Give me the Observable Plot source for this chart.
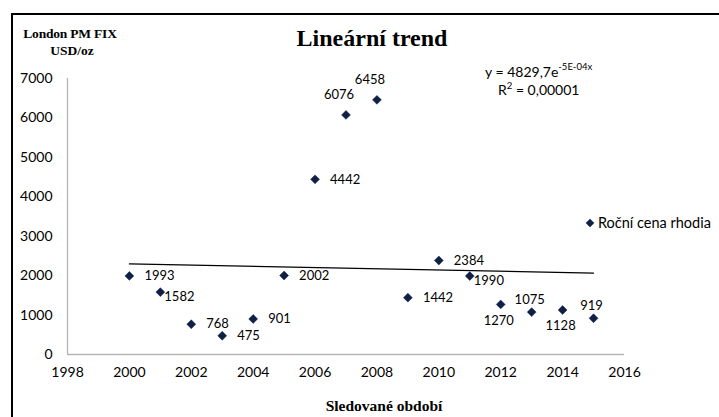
<!DOCTYPE html>
<html>
<head>
<meta charset="utf-8">
<script src="https://cdn.jsdelivr.net/npm/d3@7"></script>
<script src="https://cdn.jsdelivr.net/npm/@observablehq/plot@0.6"></script>
<style>
  html, body { margin: 0; padding: 0; background: #fff; }
  #wrap { position: relative; width: 719px; height: 417px; overflow: hidden; background: #fff; }
  #chart { position: absolute; left: 0; top: 0; }
  .frame { position: absolute; left: 11px; top: 13px; width: 800px; height: 500px;
           border-left: 2px solid #000; border-top: 2px solid #000; box-sizing: border-box; }
  .serif { position: absolute; font-family: "Liberation Serif", "Times New Roman", serif; font-weight: bold; color: #000; white-space: nowrap; }
  .sans { position: absolute; font-family: Lato, "Open Sans", sans-serif; color: #000; white-space: nowrap; }
  .legend-mark { position: absolute; width: 6px; height: 6px; background: #0f1f45; transform: rotate(45deg); }
</style>
</head>
<body>
<div id="wrap">
  <div class="frame"></div>
  <div id="chart"></div>
</div>
<script>
// ---- data ----
const years = [2000, 2001, 2002, 2003, 2004, 2005, 2006, 2007, 2008, 2009, 2010, 2011, 2012, 2013, 2014, 2015];
const prices = [1993, 1582, 768, 475, 901, 2002, 4442, 6076, 6458, 1442, 2384, 1990, 1270, 1075, 1128, 919];
const xTicks = [1998, 2000, 2002, 2004, 2006, 2008, 2010, 2012, 2014, 2016];
const yTicks = [0, 1000, 2000, 3000, 4000, 5000, 6000, 7000];
const seriesName = "Roční cena rhodia";
const chartTitle = "Lineární trend";
const yTitleLines = ["London PM FIX", "USD/oz"];
const xTitle = "Sledované období";
const equationMain = "y = 4829,7e";
const equationExp = "-5E-04x";
const r2Text = "0,00001";

// label placement groups (by year)
const labelAboveFar = [2007, 2008];
const labelAboveNear = [2013, 2015];
const labelBelow = [2012, 2014];
const labelRightBelow = [2001, 2011];

const data = years.map((year, i) => ({year, price: prices[i]}));
const inGroup = (g) => (d) => g.includes(d.year);
const isRight = (d) => ![...labelAboveFar, ...labelAboveNear, ...labelBelow, ...labelRightBelow].includes(d.year);

const navy = "#0f1f45";
const axisGray = "#b5b5b5";

const chart = Plot.plot({
  width: 719,
  height: 417,
  marginLeft: 67,
  marginRight: 95,
  marginTop: 78,
  marginBottom: 63,
  style: {fontFamily: "Lato, 'Open Sans', sans-serif", fontSize: "14px", color: "#000", background: "transparent"},
  x: {domain: [1998, 2016], ticks: xTicks, tickFormat: d => String(d), tickSize: 0, tickPadding: 13, label: null},
  y: {domain: [0, 7000], ticks: yTicks, tickFormat: d => String(d), tickSize: 0, tickPadding: 15, label: null},
  marks: [
    Plot.ruleX([1998], {stroke: axisGray, strokeWidth: 1.3}),
    Plot.ruleY([0], {stroke: axisGray, strokeWidth: 1.3}),
    Plot.linearRegressionY(data, {x: "year", y: "price", ci: 0, stroke: "#000", strokeWidth: 1.2}),
    Plot.dot(data, {x: "year", y: "price", symbol: "diamond2", r: 4, fill: navy, stroke: navy, strokeWidth: 0.5}),
    Plot.text(data.filter(isRight), {x: "year", y: "price", text: d => String(d.price), dx: 15, textAnchor: "start", fontSize: 13}),
    Plot.text(data.filter(inGroup(labelRightBelow)), {x: "year", y: "price", text: d => String(d.price), dx: 4, dy: 5, textAnchor: "start", fontSize: 13}),
    Plot.text(data.filter(inGroup(labelAboveFar)), {x: "year", y: "price", text: d => String(d.price), dx: -7, dy: -20, fontSize: 13}),
    Plot.text(data.filter(inGroup(labelAboveNear)), {x: "year", y: "price", text: d => String(d.price), dx: -2, dy: -12, fontSize: 13}),
    Plot.text(data.filter(inGroup(labelBelow)), {x: "year", y: "price", text: d => String(d.price), dx: -2, dy: 16, fontSize: 13})
  ]
});
document.getElementById("chart").appendChild(chart);

// ---- surrounding text ----
const wrap = document.getElementById("wrap");
function addDiv(cls, text, css) {
  const el = document.createElement("div");
  el.className = cls;
  el.textContent = text;
  Object.assign(el.style, css);
  wrap.appendChild(el);
  return el;
}
addDiv("serif", chartTitle, {left: "372px", top: "25px", fontSize: "24px", transform: "translateX(-50%)"});
addDiv("serif", yTitleLines[0], {left: "70px", top: "26px", fontSize: "13.5px", transform: "translateX(-50%)", letterSpacing: "-0.2px"});
addDiv("serif", yTitleLines[1], {left: "72px", top: "43px", fontSize: "13.5px", transform: "translateX(-50%)"});
addDiv("serif", xTitle, {left: "384px", top: "397px", fontSize: "15.5px", transform: "translateX(-50%)"});

const eq = addDiv("sans", "", {left: "485px", top: "62px", fontSize: "14px"});
eq.innerHTML = equationMain + '<sup style="font-size:9.5px;position:relative;top:-1px">' + equationExp + '</sup>';
const r2 = addDiv("sans", "", {left: "498px", top: "80px", fontSize: "14px"});
r2.innerHTML = 'R<sup style="font-size:9.5px">2</sup> = ' + r2Text;

const lm = document.createElement("div");
lm.className = "legend-mark";
Object.assign(lm.style, {left: "587px", top: "220px"});
wrap.appendChild(lm);
addDiv("sans", seriesName, {left: "598px", top: "214px", fontSize: "14.5px"});
</script>
</body>
</html>
